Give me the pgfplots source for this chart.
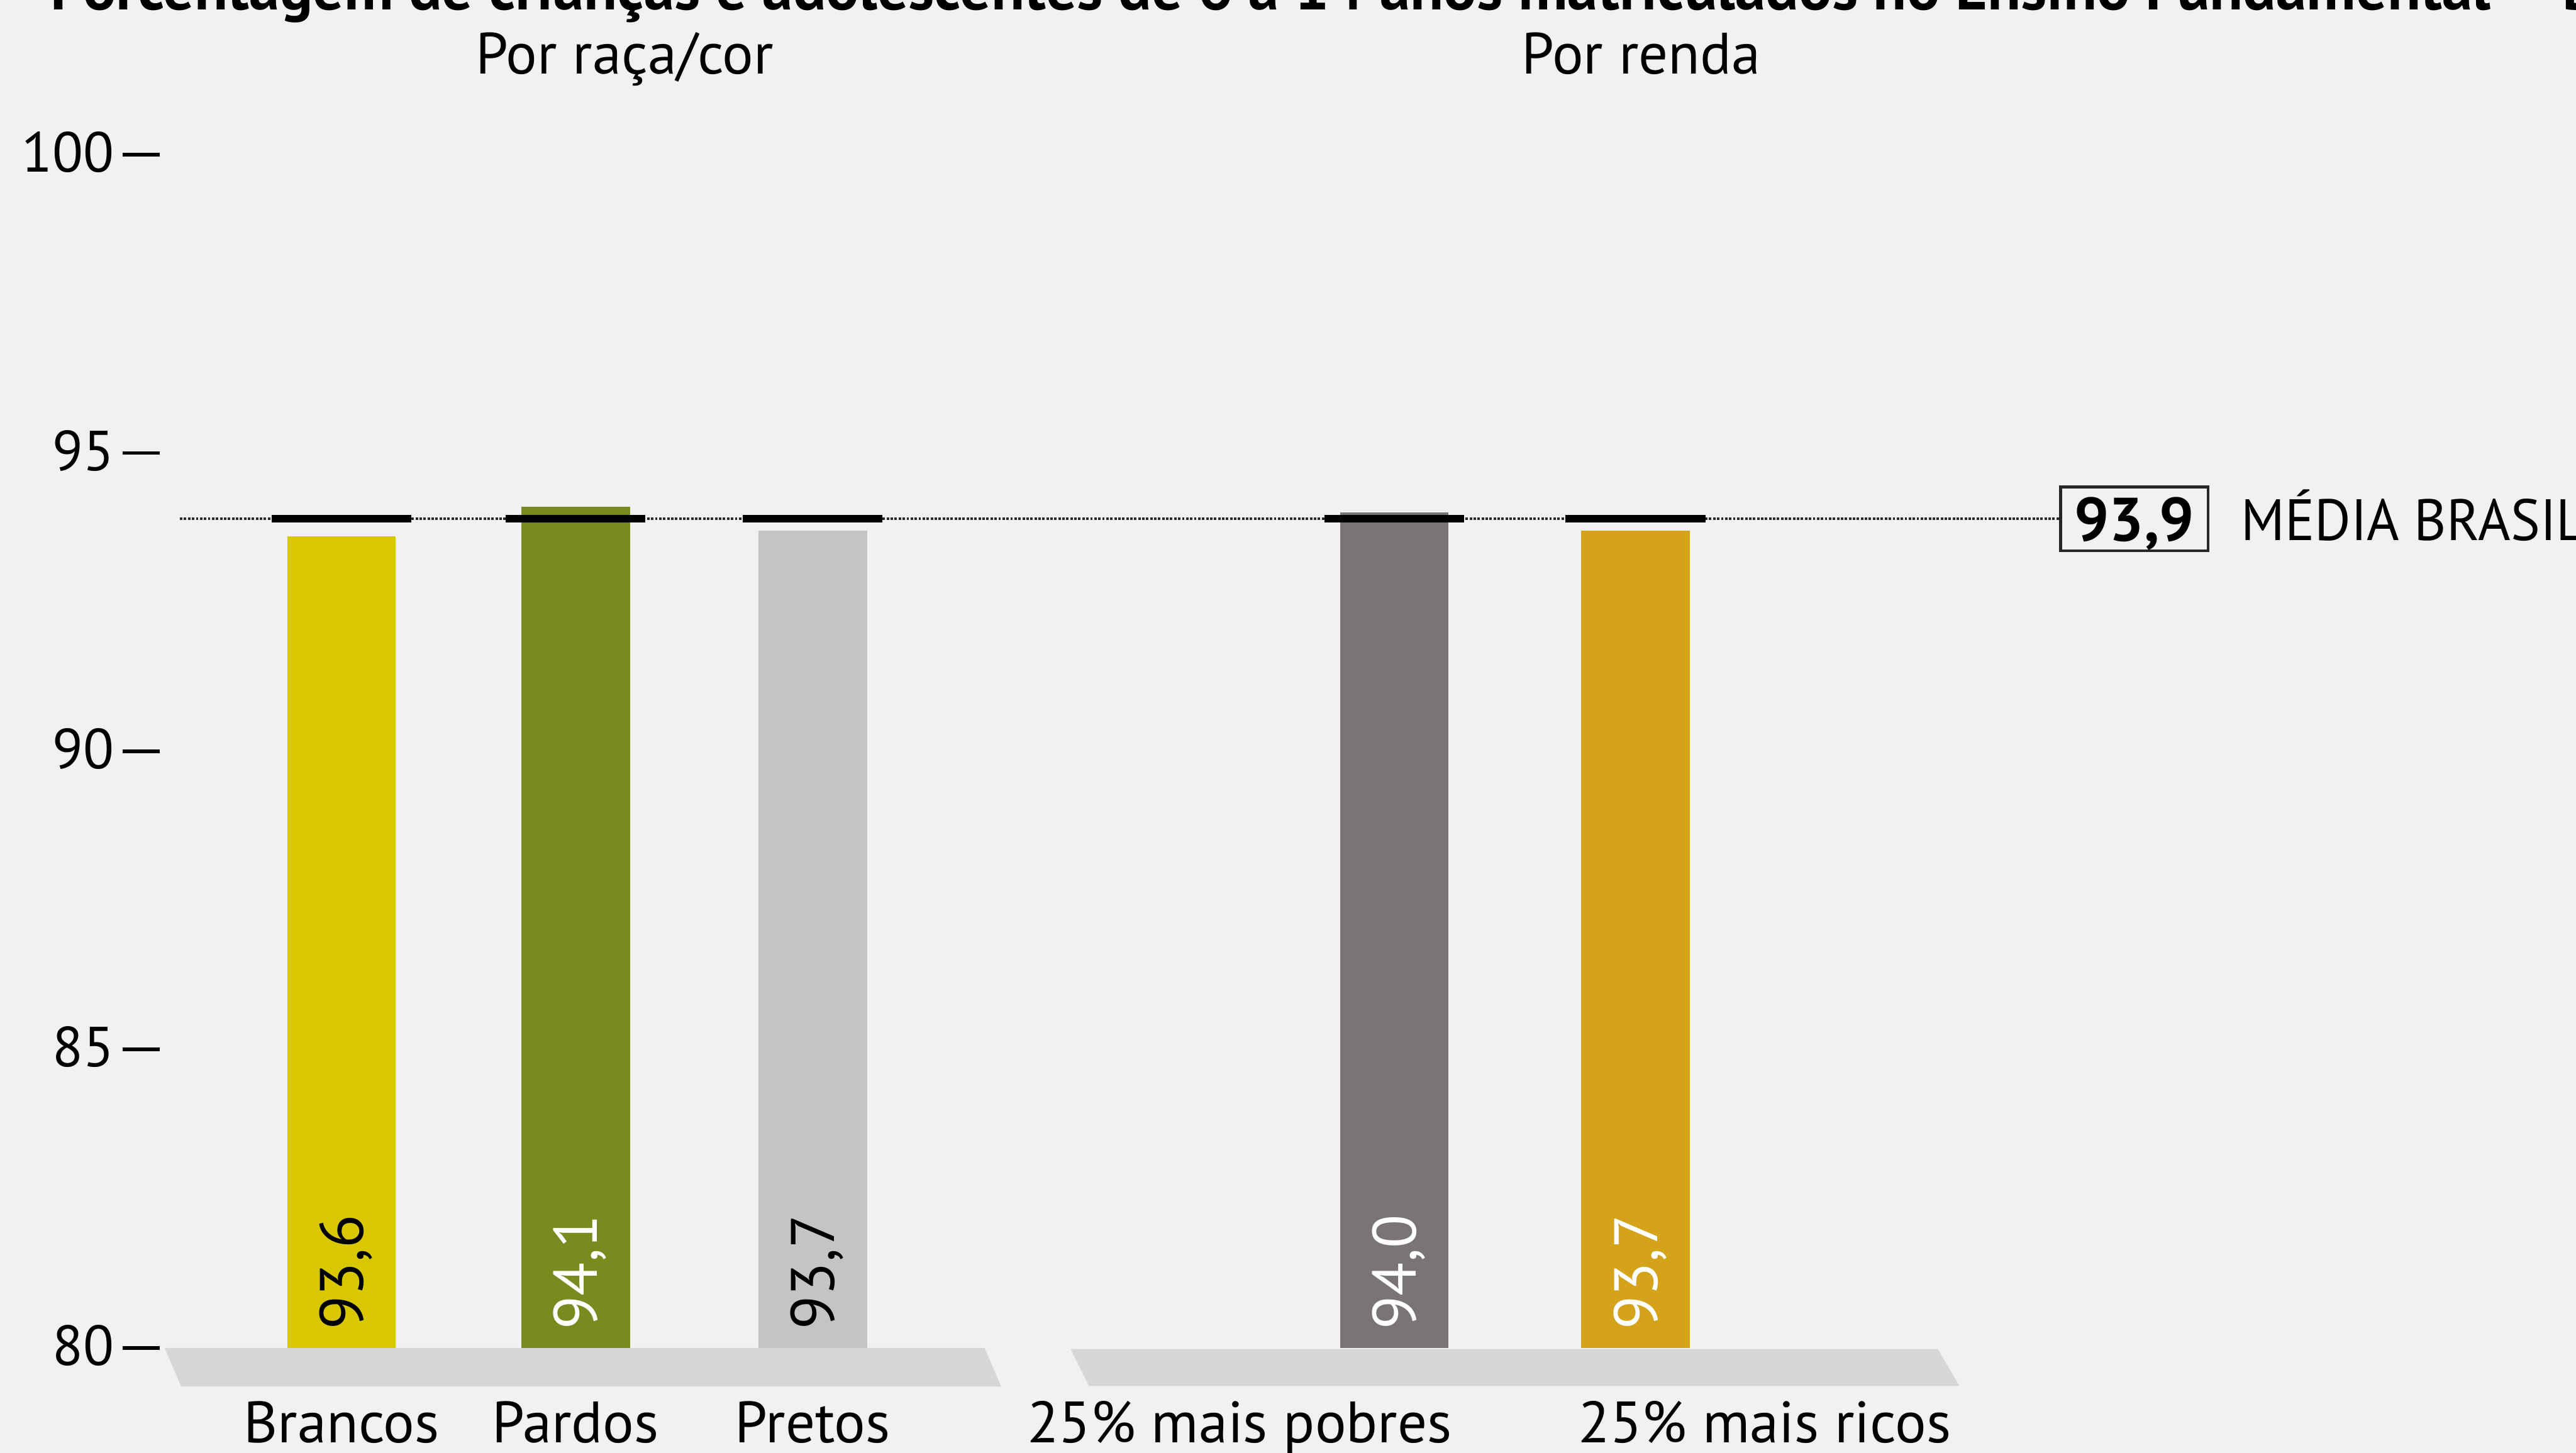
\documentclass[border=0pt]{standalone}
\usepackage{pgfplots}
\pgfplotsset{compat=1.18}
\usepackage{fontspec}
\setmainfont{PT Sans}
\definecolor{bgc}{HTML}{F1F1F1}
\definecolor{plat}{HTML}{D6D6D6}
\definecolor{cbr}{HTML}{D9C700}
\definecolor{cpa}{HTML}{7A8A1F}
\definecolor{cpr}{HTML}{C4C4C4}
\definecolor{cpo}{HTML}{7A7476}
\definecolor{cri}{HTML}{D4A31A}
\begin{document}
\begin{tikzpicture}
% background (1 px of the reference = 0.1pt)
\fill[bgc] (-26pt,-17.1pt) rectangle (393.4pt,219.5pt);
% platforms
\fill[plat] (0.8pt,0pt) -- (134.3pt,0pt) -- (137pt,-6.3pt) -- (3.5pt,-6.3pt) -- cycle;
\fill[plat] (148.3pt,-0.2pt) -- (289.5pt,-0.2pt) -- (293pt,-6.2pt) -- (151.3pt,-6.2pt) -- cycle;
\begin{axis}[
  at={(0pt,0pt)}, anchor=south west,
  scale only axis, width=393.4pt, height=194.3pt,
  xmin=260, xmax=4194, ymin=80, ymax=100,
  axis x line*=bottom, axis y line*=left,
  x axis line style={draw=none}, y axis line style={draw=none},
  xtick={556,937,1323,2018,2873},
  xticklabels={Brancos,Pardos,Pretos,25\% mais pobres,25\% mais ricos},
  xtick style={draw=none},
  xticklabel style={font=\fontsize{9.5}{11}\selectfont, anchor=base, yshift=-15.4pt},
  ytick={80,85,90,95,100},
  ytick style={black, line width=0.6pt},
  ytick align=outside,
  major tick length=6pt,
  yticklabel style={font=\fontsize{9.2}{11}\selectfont, anchor=east, xshift=2.1pt, yshift=0.4pt},
  /pgf/number format/assume math mode=true,
]
% bars
\addplot[ybar, bar width=177, bar shift=0pt, fill=cbr, draw=none] coordinates {(556,93.6)};
\addplot[ybar, bar width=177, bar shift=0pt, fill=cpa, draw=none] coordinates {(937,94.1)};
\addplot[ybar, bar width=177, bar shift=0pt, fill=cpr, draw=none] coordinates {(1323,93.7)};
\addplot[ybar, bar width=177, bar shift=0pt, fill=cpo, draw=none] coordinates {(2270,94.0)};
\addplot[ybar, bar width=177, bar shift=0pt, fill=cri, draw=none] coordinates {(2663,93.7)};
% mean line
\addplot[black!85, line width=0.4pt, dash pattern=on 0.4pt off 0.25pt] coordinates {(293,93.9) (3355,93.9)};
% mean marks over each bar
\addplot[black, line width=1.3pt] coordinates {(442,93.9) (670,93.9)};
\addplot[black, line width=1.3pt] coordinates {(823,93.9) (1051,93.9)};
\addplot[black, line width=1.3pt] coordinates {(1209,93.9) (1437,93.9)};
\addplot[black, line width=1.3pt] coordinates {(2156,93.9) (2384,93.9)};
\addplot[black, line width=1.3pt] coordinates {(2549,93.9) (2777,93.9)};
% value labels
\node[rotate=90, anchor=west, inner sep=0pt, text depth=0pt, font=\fontsize{10}{12}\selectfont, text=black] at (axis cs:556,80.29) {93,6};
\node[rotate=90, anchor=west, inner sep=0pt, text depth=0pt, font=\fontsize{10}{12}\selectfont, text=white] at (axis cs:937,80.29) {94,1};
\node[rotate=90, anchor=west, inner sep=0pt, text depth=0pt, font=\fontsize{10}{12}\selectfont, text=black] at (axis cs:1323,80.29) {93,7};
\node[rotate=90, anchor=west, inner sep=0pt, text depth=0pt, font=\fontsize{10}{12}\selectfont, text=white] at (axis cs:2270,80.29) {94,0};
\node[rotate=90, anchor=west, inner sep=0pt, text depth=0pt, font=\fontsize{10}{12}\selectfont, text=white] at (axis cs:2663,80.29) {93,7};
\end{axis}
% headers
\node[anchor=base, inner sep=0pt, font=\fontsize{9.5}{11}\selectfont] at (75.7pt,207.5pt) {Por raça/cor};
\node[anchor=base, inner sep=0pt, font=\fontsize{9.5}{11}\selectfont] at (241.2pt,207.5pt) {Por renda};
% clipped title at the very top
\node[anchor=base west, inner sep=0pt, font=\fontsize{10}{12}\selectfont\bfseries] at (-18pt,217.9pt) {Porcentagem de crianças e adolescentes de 6 a 14 anos matriculados no Ensino Fundamental -- Brasil};
% average legend
\node[draw=black!85, line width=0.45pt, minimum width=24pt, minimum height=10.4pt, inner sep=0pt, text depth=0pt, font=\fontsize{10}{12}\selectfont\bfseries] at (321.5pt,135pt) {93,9};
\node[anchor=west, inner sep=0pt, xscale=0.95, text height=0.7em, text depth=0pt, font=\fontsize{9.5}{11}\selectfont] at (338.7pt,135pt) {MÉDIA BRASIL};
\pgfresetboundingbox
\path[use as bounding box] (-26pt,-17.1pt) rectangle (393.4pt,219.5pt);
\end{tikzpicture}
\end{document}
